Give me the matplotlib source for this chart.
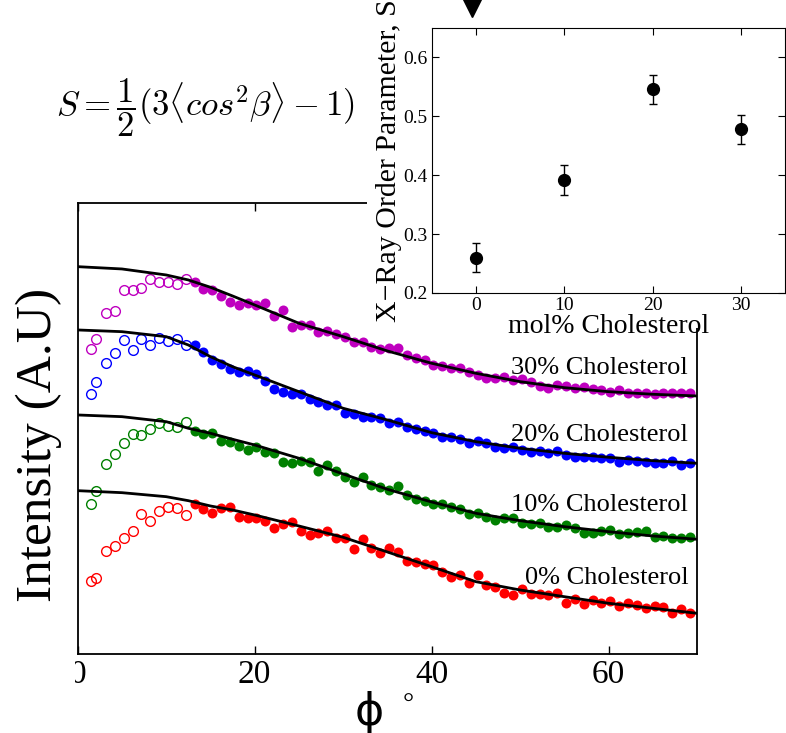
import numpy as np
import matplotlib
matplotlib.use('Agg')
from matplotlib import pyplot as plt
from matplotlib.patches import Rectangle

plt.rcParams['font.family'] = ['Liberation Serif', 'DejaVu Serif']
plt.rcParams['mathtext.fontset'] = 'cm'

# angle grid (degrees)
phi_open = [1.5, 2.1, 3.2, 4.2, 5.2, 6.2, 7.2, 8.2, 9.2, 10.2, 11.2, 12.2]
phi_filled = np.arange(13, 70) + 0.2
phi_fit = [0, 5, 10, 12.5, 15, 17.5, 20, 25, 30, 35, 40, 45, 50, 55, 60, 65, 70]

# intensities (arbitrary units, offset per sample)
chol30_open = [30.5, 31.5, 34.1, 34.3, 36.4, 36.4, 36.6, 37.5, 37.2, 37.2, 37.0, 37.5]
chol30 = [37.17, 36.5, 36.37, 35.8, 35.2, 34.87, 35.13, 34.93, 35.07, 33.8, 34.43, 32.73,
          32.9, 32.87, 32.2, 32.33, 32.0, 31.73, 31.23, 31.23, 30.67, 30.5, 30.57,
          30.57, 29.9, 29.57, 29.4, 28.9, 28.8, 28.57, 28.57, 28.23, 27.9, 27.57, 27.57,
          27.67, 27.4, 27.47, 27.23, 26.8, 26.57, 26.9, 26.8, 26.57, 26.73, 26.47, 26.4,
          26.23, 26.4, 26.07, 26.13, 26.07, 25.97, 26.13, 26.13, 26.13, 26.13]
chol30_fit = [38.73, 38.5, 37.9, 37.4, 36.67, 35.8, 34.9, 33.07, 31.73, 30.3, 29.07,
              28.07, 27.23, 26.63, 26.23, 25.97, 25.8]

chol20_open = [26.0, 27.23, 29.07, 30.13, 31.4, 30.4, 31.5, 30.93, 31.57, 31.3, 31.47, 30.93]
chol20 = [30.9, 30.2, 29.4, 29.0, 28.53, 28.2, 28.3, 28.0, 27.27, 26.53, 26.2, 26.0,
          26.0, 25.47, 25.2, 24.93, 24.87, 24.13, 24.0, 23.73, 23.67, 23.57, 23.1,
          23.23, 22.73, 22.47, 22.33, 22.13, 21.73, 21.73, 21.47, 21.07, 21.3, 21.13, 20.73,
          20.57, 20.73, 20.4, 20.23, 20.33, 20.13, 20.33, 19.9, 19.67, 19.73, 19.73, 19.57,
          19.57, 19.23, 19.4, 19.33, 19.23, 19.07, 19.07, 19.33, 18.9, 19.07]
chol20_fit = [32.4, 32.23, 31.73, 30.9, 29.73, 28.73, 27.9, 26.23, 24.57, 23.4, 22.13,
              21.23, 20.57, 20.07, 19.67, 19.33, 19.07]

chol10_open = [15.0, 16.33, 19.0, 20.0, 21.13, 21.97, 21.87, 22.53, 23.07, 22.8, 22.73, 23.23]
chol10 = [22.33, 22.0, 22.07, 21.27, 21.23, 20.8, 20.4, 20.73, 20.23, 20.13, 19.23, 19.13,
          19.33, 19.2, 18.33, 18.9, 18.33, 17.67, 17.23, 17.67, 16.9, 16.67, 16.4,
          16.8, 15.9, 15.47, 15.3, 15.03, 15.0, 14.73, 14.53, 14.0, 14.07, 13.73, 13.4,
          13.57, 13.57, 13.07, 13.0, 13.07, 12.67, 12.67, 12.9, 12.57, 12.13, 12.13, 12.33,
          12.4, 12.0, 12.07, 12.23, 12.33, 11.67, 11.8, 11.57, 11.57, 11.67]
chol10_fit = [23.9, 23.73, 23.23, 22.57, 22.07, 21.47, 20.9, 19.57, 18.0, 16.47, 15.2,
              14.07, 13.33, 12.73, 12.23, 11.8, 11.47]

chol0_open = [7.3, 7.57, 10.3, 10.8, 11.63, 12.3, 14.0, 13.3, 14.33, 14.67, 14.63, 13.87]
chol0 = [15.0, 14.5, 14.13, 14.63, 14.67, 13.73, 13.57, 13.57, 13.33, 12.63, 13.0, 13.23,
         12.3, 11.9, 12.13, 12.33, 11.57, 11.57, 10.5, 11.5, 10.63, 10.13, 10.57,
         10.17, 9.3, 9.23, 8.97, 8.9, 8.23, 7.73, 7.9, 7.07, 7.9, 6.9, 6.67,
         6.07, 5.9, 6.47, 5.97, 5.97, 5.9, 6.07, 5.13, 5.47, 4.97, 5.4, 5.13,
         5.33, 4.8, 5.07, 4.9, 4.57, 4.8, 4.73, 4.13, 4.5, 4.07]
chol0_fit = [16.33, 16.13, 15.73, 15.33, 14.8, 14.4, 13.9, 12.8, 11.67, 10.2, 8.73,
             7.23, 6.4, 5.73, 5.07, 4.57, 4.07]

labels = ['30% Cholesterol', '20% Cholesterol', '10% Cholesterol', '0% Cholesterol']
label_y = [28.57, 21.9, 14.9, 7.57]
colors = [(0.75, 0, 0.75), (0, 0, 1), (0, 0.5, 0), (1, 0, 0)]

# inset: order parameter
mol_chol = [0, 10, 20, 30]
order_S = [0.26, 0.392, 0.546, 0.478]
order_err = [0.025, 0.025, 0.025, 0.025]

fig = plt.figure(figsize=(7.86, 7.33), dpi=100)

ax = fig.add_axes([0.0989, 0.1078, 0.7879, 0.6149])
series = [(chol30_open, chol30, chol30_fit), (chol20_open, chol20, chol20_fit),
          (chol10_open, chol10, chol10_fit), (chol0_open, chol0, chol0_fit)]
for (op, fl, fit), c, lab, ly in zip(series, colors, labels, label_y):
    ax.plot(phi_open, op, 'o', mfc='none', mec=c, ms=7.0, mew=1.0, zorder=3)
    ax.plot(phi_filled, fl, 'o', color=c, ms=7.2, mew=0, zorder=3)
    ax.plot(phi_fit, fit, '-', color='k', lw=2.0, zorder=4)
    ax.text(69.0, ly, lab, ha='right', va='center', fontsize=19, zorder=5)

ax.set_xlim(0, 70)
ax.set_ylim(0, 45.07)
ax.set_xticks([0, 20, 40, 60])
ax.set_yticks([])
ax.tick_params(axis='x', direction='in', top=True, length=6, width=1, labelsize=24, pad=4)
for s in ax.spines.values():
    s.set_linewidth(1.3)
ax.set_ylabel('Intensity (A.U)', fontsize=37)
ax.yaxis.set_label_coords(-0.025, 0.464)

fig.text(369 / 786, 1 - 713 / 733, '\u03d5', family='DejaVu Sans', fontsize=32,
         ha='center', va='center')
fig.text(408.5 / 786, 1 - 705 / 733, '\u00b0', fontsize=20, ha='center', va='center')

fig.text(56 / 786, 1 - 108 / 733, r'$S=\dfrac{1}{2}(3\langle cos^2\beta\rangle-1)$',
         fontsize=25, ha='left', va='center')

# white backing under the inset, and the strip that hides most of the "0" label
fig.patches.append(Rectangle((0.4669, 0.5525), 0.54, 0.46, transform=fig.transFigure,
                             facecolor='white', edgecolor='none', zorder=1))
fig.patches.append(Rectangle((0, 1 - 700 / 733), 74.5 / 786, 42 / 733,
                             transform=fig.transFigure, facecolor='white',
                             edgecolor='none', zorder=1))

axi = fig.add_axes([0.5496, 0.6003, 0.4491, 0.3615], zorder=2)
axi.errorbar(mol_chol, order_S, yerr=order_err, fmt='o', color='k', ms=8.5,
             elinewidth=1, capsize=3, capthick=1)
axi.set_xlim(-5, 35)
axi.set_ylim(0.2, 0.65)
axi.set_xticks([0, 10, 20, 30])
axi.set_yticks([0.2, 0.3, 0.4, 0.5, 0.6])
axi.set_yticklabels(['0.2', '0.3', '0.4', '0.5', '0.6'])
axi.tick_params(direction='in', top=True, right=True, length=5, labelsize=14, pad=3)
axi.set_xlabel('mol% Cholesterol', fontsize=20, labelpad=0)
axi.set_ylabel('X\u2212Ray Order Parameter, S', fontsize=21.5, labelpad=1)
axi.plot([-0.5], [0.684], 'v', color='k', ms=13, clip_on=False)

fig.savefig('out.png', dpi=100)
